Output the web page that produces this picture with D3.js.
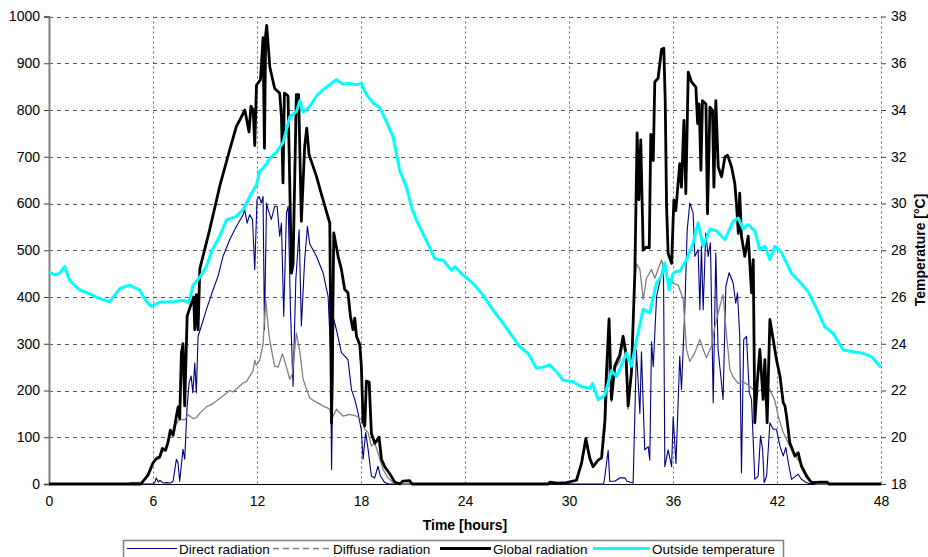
<!DOCTYPE html>
<html>
<head>
<meta charset="utf-8">
<script src="https://cdn.jsdelivr.net/npm/d3@7"></script>
<style>
  body { margin: 0; background: #fff; }
  svg { font-family: "Liberation Sans", Arial, sans-serif; }
</style>
</head>
<body>
<svg id="chart" width="928" height="557"></svg>
<script>
// -------- data: [hour, value] --------
const directRadiation = [
  [0,0],[6.0,0],[6.1,3],[6.19,13],[6.3,4],[6.39,8],[6.6,2],[6.77,3],[7.0,2],[7.16,6],[7.35,53],[7.44,46],
  [7.54,6],[7.73,74],[7.83,53],[7.97,167],[8.08,216],[8.2,231],[8.3,195],[8.41,259],[8.5,195],[8.6,316],
  [8.79,338],[9.08,373],[9.47,416],[9.75,444],[10.04,487],[10.43,523],[10.81,551],[11.2,576],[11.29,587],
  [11.43,558],[11.58,576],[11.74,566],[11.87,459],[12.0,608],[12.12,615],[12.25,601],[12.35,615],[12.43,330],
  [12.55,601],[12.64,587],[12.83,566],[13.02,594],[13.16,594],[13.31,530],[13.41,558],[13.54,359],[13.7,580],
  [13.8,594],[13.93,373],[14.08,209],[14.24,437],[14.43,544],[14.56,338],[14.75,480],[14.91,551],[15.04,514],
  [15.43,487],[15.81,452],[16.1,402],[16.24,288],[16.3,31],[16.43,352],[16.58,330],[16.87,281],[17.25,266],
  [17.45,202],[17.64,181],[17.83,152],[18.02,115],[18.12,53],[18.27,110],[18.41,74],[18.5,46],[18.6,17],
  [18.79,13],[18.98,38],[19.12,17],[19.37,3],[19.6,0],[32.0,0],[32.07,17],[32.26,72],[32.35,6],[32.64,6],
  [32.93,13],[33.22,13],[33.35,6],[33.7,2],[33.89,286],[34.09,151],[34.18,283],[34.37,73],[34.57,80],
  [34.66,51],[34.76,304],[34.86,251],[35.05,400],[35.3,444],[35.45,470],[35.53,37],[35.72,73],[35.92,37],
  [36.01,144],[36.17,44],[36.39,273],[36.49,202],[36.68,373],[36.82,544],[36.97,601],[37.16,580],[37.26,487],
  [37.45,501],[37.55,373],[37.64,509],[37.74,373],[37.89,537],[38.03,487],[38.16,516],[38.32,174],[38.47,494],
  [38.6,288],[38.7,252],[38.89,181],[39.05,423],[39.24,452],[39.47,430],[39.62,387],[39.72,409],[39.85,316],
  [39.95,24],[40.08,309],[40.24,316],[40.4,195],[40.53,181],[40.72,10],[40.91,17],[41.05,103],[41.17,74],
  [41.26,3],[41.4,17],[41.59,131],[41.78,117],[41.97,117],[42.17,81],[42.36,60],[42.51,78],[42.65,46],
  [42.84,10],[43.22,21],[43.41,10],[43.7,3],[43.9,0],[48,0]
];

const diffuseRadiation = [
  [0,0],[4.6,0],[4.7,3],[5.3,4],[5.71,18],[6.0,44],[6.2,52],[6.39,55],[6.54,70],[6.73,70],[6.87,85],[7.0,110],
  [7.16,100],[7.31,125],[7.45,135],[7.64,138],[7.83,137],[8.02,148],[8.31,140],[8.5,142],[8.69,151],[9.08,165],
  [9.46,172],[9.85,183],[10.43,200],[10.62,197],[11.2,216],[11.39,219],[11.77,242],[11.87,265],[11.96,254],
  [12.16,265],[12.35,300],[12.5,395],[12.7,316],[12.83,288],[13.02,252],[13.22,250],[13.47,279],[13.7,250],
  [13.89,224],[14.04,236],[14.27,323],[14.47,283],[14.66,224],[15.04,184],[15.43,175],[15.81,167],[16.2,160],
  [16.3,138],[16.58,160],[16.97,145],[17.35,149],[17.74,145],[18.02,138],[18.22,117],[18.41,110],[18.6,81],
  [18.79,88],[18.98,67],[19.27,31],[19.56,13],[19.85,3],[20.1,0],[28.8,0],[28.9,3],[29.85,3],[30.43,8],
  [30.72,40],[30.97,90],[31.2,50],[31.39,37],[31.68,50],[31.88,55],[32.07,115],[32.16,170],[32.31,280],
  [32.45,175],[32.64,245],[32.93,263],[33.12,303],[33.28,268],[33.41,160],[33.6,235],[33.8,440],[33.89,471],
  [34.09,459],[34.28,395],[34.47,440],[34.76,459],[34.95,440],[35.34,479],[35.63,443],[36.01,430],[36.3,425],
  [36.39,416],[36.59,395],[36.78,288],[36.97,262],[37.26,281],[37.55,309],[37.74,288],[37.93,270],[38.22,295],
  [38.41,335],[38.7,380],[38.89,405],[39.08,323],[39.28,245],[39.47,229],[39.76,215],[40.04,219],[40.43,209],
  [40.82,195],[41.2,205],[41.59,202],[41.88,178],[42.07,145],[42.36,110],[42.74,81],[43.13,57],[43.51,35],
  [43.9,9],[44.1,2],[44.3,0],[48,0]
];

const globalRadiation = [
  [0,0],[5.3,0],[5.71,19],[6.0,45],[6.2,55],[6.39,58],[6.54,76],[6.73,73],[6.87,90],[7.0,115],[7.16,105],
  [7.31,137],[7.45,165],[7.54,140],[7.64,281],[7.73,300],[7.83,167],[7.97,359],[8.2,385],[8.35,400],[8.41,330],
  [8.5,405],[8.6,330],[8.7,460],[9.27,544],[9.85,637],[10.43,715],[10.81,765],[11.0,778],[11.3,800],[11.54,753],
  [11.65,808],[11.78,800],[11.87,724],[11.97,853],[12.2,865],[12.35,955],[12.43,718],[12.5,960],[12.56,981],
  [12.74,892],[13.02,846],[13.31,836],[13.41,786],[13.5,644],[13.58,836],[13.79,830],[13.99,451],[14.08,470],
  [14.27,833],[14.4,833],[14.56,562],[14.75,722],[14.87,761],[15.0,705],[15.43,658],[15.81,608],[16.2,558],
  [16.3,130],[16.43,537],[16.68,487],[16.87,459],[17.06,416],[17.25,409],[17.39,359],[17.54,330],[17.64,355],
  [17.74,316],[17.93,298],[18.02,252],[18.12,135],[18.22,124],[18.31,220],[18.47,218],[18.6,108],[18.8,87],
  [19.04,100],[19.18,53],[19.37,37],[19.66,22],[19.95,4],[20.24,0],[20.4,6],[20.8,7],[20.95,0],[28.8,0],
  [28.9,4],[29.3,2],[29.85,3],[30.43,8],[30.72,44],[30.97,97],[31.2,55],[31.39,37],[31.68,51],[31.88,56],
  [32.07,135],[32.16,237],[32.31,353],[32.45,181],[32.64,252],[32.93,276],[33.12,316],[33.28,281],[33.41,167],
  [33.6,238],[33.8,452],[33.93,751],[34.03,608],[34.14,736],[34.28,500],[34.47,507],[34.63,505],[34.72,748],
  [34.86,692],[34.95,860],[35.14,868],[35.34,930],[35.47,932],[35.55,822],[35.63,593],[35.72,493],[35.92,472],
  [36.05,607],[36.16,585],[36.39,685],[36.49,635],[36.63,778],[36.74,621],[36.88,881],[37.07,860],[37.32,849],
  [37.42,771],[37.51,813],[37.61,671],[37.7,820],[37.9,813],[37.99,578],[38.13,806],[38.28,799],[38.36,635],
  [38.47,820],[38.61,678],[38.8,657],[39.0,700],[39.15,703],[39.38,678],[39.57,642],[39.67,594],[39.77,536],
  [39.85,622],[39.95,530],[40.14,487],[40.34,530],[40.53,409],[40.63,480],[40.72,131],[40.86,216],[41.01,288],
  [41.2,181],[41.3,266],[41.43,131],[41.59,352],[41.78,309],[41.97,266],[42.17,231],[42.36,174],[42.46,167],
  [42.55,145],[42.74,88],[43.03,60],[43.22,67],[43.41,38],[43.7,17],[43.99,3],[44.5,4],[44.9,4],[45.0,0],[48,0]
];

const outsideTemperature = [
  [0,27.07],[0.3,26.95],[0.6,27.0],[0.9,27.3],[1.2,26.7],[1.77,26.3],[2.3,26.15],[2.93,25.93],[3.5,25.8],
  [4.08,26.36],[4.4,26.45],[4.66,26.5],[5.23,26.3],[5.62,25.8],[5.9,25.6],[6.39,25.78],[7.15,25.8],[7.83,25.86],
  [8.0,25.75],[8.12,25.9],[8.31,26.5],[8.7,26.85],[9.08,27.3],[9.4,28.0],[9.85,28.6],[10.24,29.3],[10.81,29.45],
  [11.2,29.74],[11.58,30.3],[11.97,30.8],[12.16,31.4],[12.35,31.5],[12.54,31.7],[12.7,31.9],[13.12,32.2],
  [13.5,32.6],[13.89,33.7],[14.28,33.94],[14.47,34.4],[14.66,33.9],[15.04,34.15],[15.43,34.6],[15.82,34.87],
  [16.2,35.08],[16.58,35.3],[16.97,35.1],[17.35,35.14],[17.74,35.08],[18.03,35.14],[18.32,34.65],[18.7,34.3],
  [19.08,34.1],[19.47,33.5],[19.85,32.85],[20.05,32.1],[20.24,31.4],[20.62,30.7],[20.91,29.85],[21.2,29.28],
  [21.58,28.7],[21.97,28.1],[22.26,27.64],[22.74,27.57],[23.22,27.14],[23.41,27.3],[23.89,26.93],[24.47,26.58],
  [25.04,26.08],[25.62,25.44],[26.2,24.87],[26.68,24.37],[27.16,23.87],[27.64,23.59],[28.12,22.95],[28.5,23.0],
  [28.87,23.1],[29.28,22.8],[29.66,22.44],[30.24,22.37],[30.72,22.16],[31.2,22.09],[31.36,22.3],[31.68,21.6],
  [32.07,21.8],[32.16,22.05],[32.45,22.85],[32.74,22.6],[33.32,23.6],[33.6,23.04],[33.9,24.18],[34.28,25.47],
  [34.66,25.32],[35.05,26.6],[35.34,26.89],[35.53,27.46],[35.78,26.3],[36.0,27.0],[36.2,27.1],[36.4,27.1],
  [36.78,27.6],[37.16,28.3],[37.45,29.17],[37.74,28.17],[38.13,28.9],[38.51,28.83],[38.99,28.46],[39.47,29.24],
  [39.76,29.38],[40.05,28.9],[40.34,29.1],[40.72,28.83],[41.0,28.03],[41.3,28.17],[41.59,27.6],[41.88,28.17],
  [42.26,27.9],[42.55,27.46],[42.84,27.0],[43.32,26.64],[43.8,26.22],[44.28,25.5],[44.76,24.72],[45.24,24.44],
  [45.82,23.73],[46.39,23.66],[46.97,23.59],[47.45,23.44],[48,23.0]
];

const hourTicks = [0, 6, 12, 18, 24, 30, 36, 42, 48];
const radiationTicks = [0, 100, 200, 300, 400, 500, 600, 700, 800, 900, 1000];
const temperatureTicks = [18, 20, 22, 24, 26, 28, 30, 32, 34, 36, 38];
const seriesNames = ["Direct radiation", "Diffuse radiation", "Global radiation", "Outside temperature"];

// -------- setup --------
const svg = d3.select("#chart");
const plot = { left: 49, right: 881, top: 16.5, bottom: 484 };

const x = d3.scaleLinear().domain([0, 48]).range([plot.left, plot.right]);
const yRad = d3.scaleLinear().domain([0, 1000]).range([plot.bottom, plot.top]);
const yTemp = d3.scaleLinear().domain([18, 38]).range([plot.bottom, plot.top]);

svg.append("rect").attr("width", 928).attr("height", 557).attr("fill", "#fff");

// gridlines
svg.append("g")
  .selectAll("line")
  .data(radiationTicks.slice(1))
  .enter()
  .append("line")
  .attr("x1", plot.left)
  .attr("x2", plot.right)
  .attr("y1", d => Math.round(yRad(d)) + 0.5)
  .attr("y2", d => Math.round(yRad(d)) + 0.5)
  .attr("stroke", "#5a5a5a")
  .attr("stroke-width", 1)
  .attr("stroke-dasharray", "4,4");

svg.append("g")
  .selectAll("line")
  .data(hourTicks.slice(1))
  .enter()
  .append("line")
  .attr("x1", d => Math.round(x(d)) + 0.5)
  .attr("x2", d => Math.round(x(d)) + 0.5)
  .attr("y1", plot.top)
  .attr("y2", plot.bottom)
  .attr("stroke", "#6a6a6a")
  .attr("stroke-width", 1)
  .attr("stroke-dasharray", "2,3");

// axes
const leftAxis = svg.append("g")
  .attr("transform", `translate(${plot.left},0)`)
  .call(d3.axisLeft(yRad).tickValues(radiationTicks).tickFormat(d3.format("d"))
    .tickSize(5).tickPadding(4));
leftAxis.select(".domain").attr("stroke", "#808080").attr("stroke-width", 2);
leftAxis.selectAll(".tick line").attr("stroke", "#404040");

const rightAxis = svg.append("g")
  .attr("transform", `translate(${plot.right},0)`)
  .call(d3.axisRight(yTemp).tickValues(temperatureTicks).tickSize(5).tickPadding(5));
rightAxis.select(".domain").remove();
rightAxis.selectAll(".tick line").attr("stroke", "#404040");

const bottomAxis = svg.append("g")
  .attr("transform", `translate(0,${plot.bottom})`)
  .call(d3.axisBottom(x).tickValues(hourTicks).tickSize(0).tickPadding(12));
bottomAxis.select(".domain").attr("stroke", "#000").attr("stroke-width", 1.2);

svg.selectAll(".tick text")
  .attr("font-size", 14)
  .attr("font-family", "Liberation Sans, Arial, sans-serif")
  .attr("fill", "#000");

// axis titles
svg.append("text")
  .attr("x", (plot.left + plot.right) / 2)
  .attr("y", 530)
  .attr("text-anchor", "middle")
  .attr("font-size", 14)
  .attr("font-weight", "bold")
  .text("Time [hours]");

svg.append("text")
  .attr("transform", "translate(925,250) rotate(-90)")
  .attr("text-anchor", "middle")
  .attr("font-size", 14)
  .attr("font-weight", "bold")
  .text("Temperature [°C]");

// series
const radLine = d3.line().x(d => x(d[0])).y(d => yRad(d[1]));
const tempLine = d3.line().x(d => x(d[0])).y(d => yTemp(d[1]));

const styles = [
  { data: directRadiation, line: radLine, color: "#000080", width: 1.1, dash: null },
  { data: diffuseRadiation, line: radLine, color: "#808080", width: 1.3, dash: "6,4" },
  { data: globalRadiation, line: radLine, color: "#000000", width: 2.8, dash: null },
  { data: outsideTemperature, line: tempLine, color: "#00ffff", width: 3, dash: null }
];

styles.forEach(s => {
  svg.append("path")
    .datum(s.data)
    .attr("fill", "none")
    .attr("stroke", s.color)
    .attr("stroke-width", s.width)
    .attr("stroke-linejoin", "round")
    .attr("d", s.line);
});

// legend
const legend = svg.append("g");
legend.append("rect")
  .attr("x", 123.5).attr("y", 540.5)
  .attr("width", 660).attr("height", 30)
  .attr("fill", "#fff")
  .attr("stroke", "#808080")
  .attr("stroke-width", 1.5);

const legendPos = [[127, 177], [273, 331], [440, 491], [593, 650]];
seriesNames.forEach((name, i) => {
  const s = styles[i], p = legendPos[i];
  legend.append("line")
    .attr("x1", p[0]).attr("x2", p[1])
    .attr("y1", 548.5).attr("y2", 548.5)
    .attr("stroke", s.color)
    .attr("stroke-width", s.width)
    .attr("stroke-dasharray", s.dash);
  legend.append("text")
    .attr("x", p[1] + 2)
    .attr("y", 554)
    .attr("font-size", 13.5)
    .text(name);
});
</script>
</body>
</html>
